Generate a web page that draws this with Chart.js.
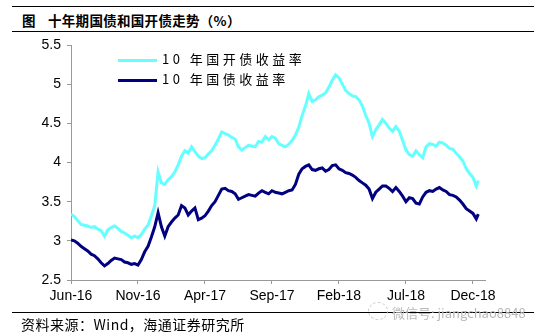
<!DOCTYPE html>
<html>
<head>
<meta charset="utf-8">
<script src="https://cdn.jsdelivr.net/npm/chart.js@4"></script>
<style>
  body { margin: 0; background: #fff; }
  #wrap { position: relative; width: 546px; height: 336px; overflow: hidden; font-family: "Noto Sans CJK SC", sans-serif; }
  #chartBox { position: absolute; left: 0; top: 0; width: 546px; height: 312px; }
  .rule { position: absolute; left: 12px; width: 522px; height: 1px; background: #000; }
  .title { position: absolute; top: 10px; font-size: 13.5px; font-weight: bold; color: #000; white-space: pre; letter-spacing: 0.3px; }
  #source { position: absolute; left: 21px; top: 314px; font-size: 14px; color: #000; white-space: pre; letter-spacing: 0.5px; }
  .legItem { position: absolute; left: 118px; font-size: 13px; color: #000; letter-spacing: 3.5px; white-space: pre; }
  .legLine { display: inline-block; width: 39px; height: 3px; vertical-align: middle; margin-right: 5px; }
  #mark { position: absolute; left: 392px; top: 303px; font-size: 13px; color: #b8b8b8; white-space: pre; }
  #markIcon { position: absolute; left: 368px; top: 302px; width: 18px; height: 16px; border: 1px dashed #c8c8c8; border-radius: 50%; }
</style>
</head>
<body>
<div id="wrap">
  <div class="rule" style="top:6px"></div>
  <div class="title" style="left:22px">图</div>
  <div class="title" style="left:48px">十年期国债和国开债走势（%）</div>
  <div class="rule" style="top:31px"></div>
  <div id="chartBox"><canvas id="chart"></canvas></div>
  <div class="legItem" style="top:49px"><span class="legLine" style="background:#66ffff"></span>10 年国开债收益率</div>
  <div class="legItem" style="top:69px"><span class="legLine" style="background:#000080"></span>10 年国债收益率</div>
  <div class="rule" style="top:312px"></div>
  <div id="source">资料来源：Wind，海通证券研究所</div>
  <div id="markIcon"></div>
  <div id="mark">微信号: jiangchao8848</div>
</div>
<script>
// x 轴刻度标签（每 5 个月一个）
const tickLabels = ['Jun-16', 'Nov-16', 'Apr-17', 'Sep-17', 'Feb-18', 'Jul-18', 'Dec-18'];

// 距 2016 年 6 月的月数
const months = [
  0, 0.25, 0.5, 0.75, 1, 1.25, 1.5, 1.75,
  2, 2.25, 2.5, 2.75, 3, 3.25, 3.5, 3.75,
  4, 4.25, 4.5, 4.75, 5, 5.25, 5.5, 5.75,
  6, 6.25, 6.5, 6.75, 7, 7.25, 7.5, 7.75,
  8, 8.25, 8.5, 8.75, 9, 9.25, 9.5, 9.75,
  10, 10.25, 10.5, 10.75, 11, 11.25, 11.5, 11.75,
  12, 12.25, 12.5, 12.75, 13, 13.25, 13.5, 13.75,
  14, 14.25, 14.5, 14.75, 15, 15.25, 15.5, 15.75,
  16, 16.25, 16.5, 16.75, 17, 17.25, 17.5, 17.75,
  18, 18.25, 18.5, 18.75, 19, 19.25, 19.5, 19.75,
  20, 20.25, 20.5, 20.75, 21, 21.25, 21.5, 21.75,
  22, 22.25, 22.5, 22.75, 23, 23.25, 23.5, 23.75,
  24, 24.25, 24.5, 24.75, 25, 25.25, 25.5, 25.75,
  26, 26.25, 26.5, 26.75, 27, 27.25, 27.5, 27.75,
  28, 28.25, 28.5, 28.75, 29, 29.25, 29.5, 29.75,
  30, 30.25, 30.4
];

// 10 年国开债收益率
const cdbYield = [
  3.34, 3.31, 3.26, 3.21, 3.20, 3.19, 3.17, 3.18,
  3.15, 3.13, 3.06, 3.14, 3.17, 3.19, 3.16, 3.12,
  3.10, 3.07, 3.04, 3.06, 3.04, 3.08, 3.15, 3.20,
  3.32, 3.45, 3.88, 3.74, 3.72, 3.78, 3.82, 3.88,
  3.97, 4.08, 4.15, 4.12, 4.20, 4.14, 4.08, 4.05,
  4.06, 4.11, 4.15, 4.22, 4.30, 4.39, 4.37, 4.35,
  4.32, 4.30, 4.20, 4.16, 4.19, 4.22, 4.21, 4.20,
  4.27, 4.26, 4.33, 4.29, 4.33, 4.31, 4.24, 4.22,
  4.20, 4.23, 4.28, 4.35, 4.45, 4.60, 4.72, 4.88,
  4.78, 4.80, 4.84, 4.86, 4.89, 4.96, 5.05, 5.12,
  5.08, 5.00, 4.92, 4.88, 4.85, 4.84, 4.80, 4.72,
  4.60, 4.50, 4.33, 4.42, 4.48, 4.55, 4.50, 4.44,
  4.40, 4.46, 4.40, 4.28, 4.16, 4.10, 4.08, 4.15,
  4.10, 4.06, 4.20, 4.24, 4.23, 4.21, 4.26, 4.25,
  4.22, 4.18, 4.17, 4.12, 4.07, 4.02, 3.92, 3.86,
  3.81, 3.70, 3.77
];

// 10 年国债收益率
const govYield = [
  3.01, 3.00, 2.97, 2.93, 2.90, 2.87, 2.83, 2.81,
  2.77, 2.72, 2.68, 2.71, 2.75, 2.78, 2.77, 2.76,
  2.73, 2.72, 2.70, 2.71, 2.69, 2.76, 2.86, 2.93,
  3.05, 3.18, 3.36, 3.18, 3.06, 3.18, 3.24, 3.29,
  3.33, 3.45, 3.42, 3.33, 3.38, 3.42, 3.27, 3.29,
  3.32, 3.38, 3.45, 3.50, 3.58, 3.66, 3.67, 3.64,
  3.63, 3.60, 3.53, 3.55, 3.57, 3.59, 3.58, 3.57,
  3.61, 3.64, 3.62, 3.60, 3.64, 3.62, 3.61, 3.60,
  3.62, 3.64, 3.65, 3.72, 3.85, 3.92, 3.95, 3.97,
  3.91, 3.90, 3.92, 3.93, 3.89, 3.91, 3.96, 3.97,
  3.92, 3.90, 3.87, 3.86, 3.84, 3.81, 3.77, 3.74,
  3.71, 3.66, 3.54, 3.62, 3.66, 3.70, 3.70, 3.67,
  3.63, 3.68, 3.63, 3.57, 3.50, 3.55, 3.54, 3.48,
  3.47, 3.56, 3.62, 3.64, 3.63, 3.66, 3.68, 3.65,
  3.63, 3.59, 3.58, 3.56, 3.52, 3.47, 3.41, 3.38,
  3.35, 3.28, 3.34
];

const axisFont = { family: 'Arial, "Liberation Sans", sans-serif', size: 14 };

const ctx = document.getElementById('chart').getContext('2d');
new Chart(ctx, {
  type: 'line',
  data: {
    datasets: [
      {
        label: '10 年国开债收益率',
        data: months.map((m, i) => ({ x: m, y: cdbYield[i] })),
        borderColor: '#66ffff',
        borderWidth: 3,
        pointRadius: 0,
        tension: 0
      },
      {
        label: '10 年国债收益率',
        data: months.map((m, i) => ({ x: m, y: govYield[i] })),
        borderColor: '#000080',
        borderWidth: 3,
        pointRadius: 0,
        tension: 0
      }
    ]
  },
  options: {
    responsive: true,
    maintainAspectRatio: false,
    animation: false,
    layout: { padding: { top: 45, right: 61, left: 0, bottom: 0 } },
    plugins: {
      legend: { display: false },
      tooltip: { enabled: false }
    },
    scales: {
      x: {
        type: 'linear',
        min: 0,
        max: 30.9,
        grid: { display: true, drawOnChartArea: false, color: '#999', tickLength: 4 },
        border: { color: '#999', width: 1 },
        ticks: {
          stepSize: 5,
          includeBounds: false,
          autoSkip: false,
          maxRotation: 0,
          padding: 4,
          color: '#000',
          font: axisFont,
          callback: (v) => tickLabels[v / 5] ?? ''
        },
        afterFit: (axis) => { axis.height = 32; }
      },
      y: {
        min: 2.5,
        max: 5.5,
        grid: { display: true, drawOnChartArea: false, color: '#999', tickLength: 4 },
        border: { color: '#999', width: 1 },
        ticks: {
          stepSize: 0.5,
          padding: 6,
          color: '#000',
          font: axisFont,
          callback: (v) => String(v)
        },
        afterFit: (axis) => { axis.width = 71; }
      }
    }
  }
});
</script>
</body>
</html>
